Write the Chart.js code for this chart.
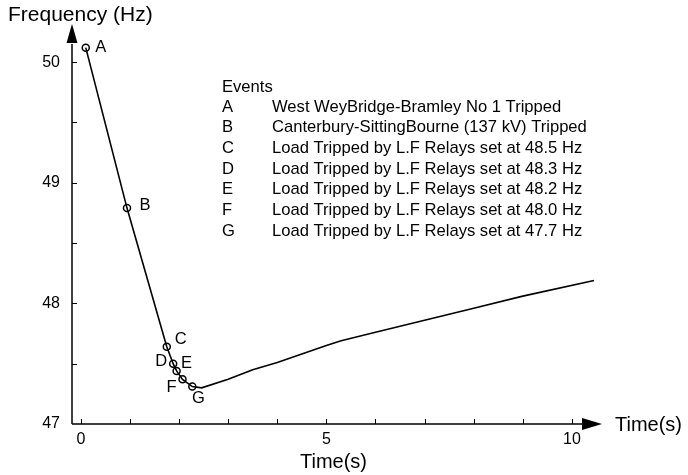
<!DOCTYPE html>
<html>
<head>
<meta charset="utf-8">
<script src="https://cdn.jsdelivr.net/npm/chart.js@4"></script>
<style>
  html, body { margin: 0; padding: 0; background: #fff; }
</style>
</head>
<body>
<canvas id="freqChart" width="688" height="475"></canvas>
<script>
// frequency trace
var timeS  = [0.10, 0.94, 1.75, 1.88, 1.95, 2.07, 2.27, 2.46, 3.0, 3.5, 4.0, 4.5, 5.0, 5.3, 6.0, 7.0, 8.0, 9.0, 10.45];
var freqHz = [50.12, 48.79, 47.64, 47.50, 47.44, 47.37, 47.31, 47.30, 47.37, 47.45, 47.51, 47.58, 47.65, 47.69, 47.76, 47.86, 47.96, 48.06, 48.19];

// events along the trace
var eventLetters = ['A', 'B', 'C', 'D', 'E', 'F', 'G'];
var eventTime = [0.10, 0.94, 1.75, 1.88, 1.95, 2.07, 2.27];
var eventFreq = [50.12, 48.79, 47.64, 47.50, 47.44, 47.37, 47.31];
var eventText = [
    'West WeyBridge-Bramley No 1 Tripped',
    'Canterbury-SittingBourne (137 kV) Tripped',
    'Load Tripped by L.F Relays set at 48.5 Hz',
    'Load Tripped by L.F Relays set at 48.3 Hz',
    'Load Tripped by L.F Relays set at 48.2 Hz',
    'Load Tripped by L.F Relays set at 48.0 Hz',
    'Load Tripped by L.F Relays set at 47.7 Hz'
];

// tick positions and the ones that carry a label
var xTickValues = [0, 1, 2, 3, 4, 5, 6, 7, 8, 9, 10];
var xTickLabels = [0, 5, 10];
var yTickValues = [47, 47.5, 48, 48.5, 49, 49.5, 50];
var yTickLabels = [47, 48, 49, 50];

// where each letter sits relative to its circle
var letterOffsets = [[15, 0], [18, -3], [14, -7], [-12, -2], [10, -7], [-11, 8], [6, 12]];

Chart.defaults.font.family = '"Liberation Sans", Arial, sans-serif';
Chart.defaults.color = '#000';

var axesAndNotes = {
    id: 'axesAndNotes',
    afterDraw: function (chart) {
        var ctx = chart.ctx, a = chart.chartArea;
        var xs = chart.scales.x, ys = chart.scales.y;
        ctx.save();
        ctx.strokeStyle = '#000';
        ctx.fillStyle = '#000';

        // axis lines
        ctx.lineWidth = 1.5;
        ctx.beginPath();
        ctx.moveTo(a.left, a.bottom);
        ctx.lineTo(a.left, a.top + 6);
        ctx.moveTo(a.left, a.bottom);
        ctx.lineTo(a.right - 13, a.bottom);
        ctx.stroke();

        // arrow heads
        ctx.beginPath();
        ctx.moveTo(a.left, a.top - 14);
        ctx.lineTo(a.left - 5.5, a.top + 5);
        ctx.lineTo(a.left + 5.5, a.top + 5);
        ctx.closePath();
        ctx.fill();
        ctx.beginPath();
        ctx.moveTo(a.right + 7, a.bottom);
        ctx.lineTo(a.right - 13, a.bottom - 6);
        ctx.lineTo(a.right - 13, a.bottom + 6);
        ctx.closePath();
        ctx.fill();

        // inward tick marks
        ctx.lineWidth = 1;
        ctx.beginPath();
        xs.ticks.forEach(function (t) {
            var px = Math.round(xs.getPixelForValue(t.value)) + 0.5;
            ctx.moveTo(px, a.bottom);
            ctx.lineTo(px, a.bottom - 5);
        });
        ys.ticks.forEach(function (t) {
            if (t.value === ys.min) return;
            var py = Math.round(ys.getPixelForValue(t.value)) + 0.5;
            ctx.moveTo(a.left, py);
            ctx.lineTo(a.left + 5, py);
        });
        ctx.stroke();

        // axis captions
        ctx.textBaseline = 'middle';
        ctx.textAlign = 'left';
        ctx.font = '21px "Liberation Sans", Arial, sans-serif';
        ctx.fillText('Frequency (Hz)', 8, 15);
        ctx.font = '20px "Liberation Sans", Arial, sans-serif';
        ctx.fillText('Time(s)', a.right + 20, a.bottom + 1);

        // letters next to the event circles
        ctx.font = '16.5px "Liberation Sans", Arial, sans-serif';
        ctx.textAlign = 'center';
        var pts = chart.getDatasetMeta(1).data;
        pts.forEach(function (p, i) {
            ctx.fillText(eventLetters[i], p.x + letterOffsets[i][0], p.y + letterOffsets[i][1]);
        });

        // event list
        ctx.textAlign = 'left';
        ctx.font = '16.6px "Liberation Sans", Arial, sans-serif';
        ctx.fillText('Events', 222, 87);
        eventText.forEach(function (txt, i) {
            var y = 107 + i * 20.7;
            ctx.fillText(eventLetters[i], 222, y);
            ctx.fillText(txt, 272, y);
        });
        ctx.restore();
    }
};

var ctx = document.getElementById('freqChart').getContext('2d');
var freqChart = new Chart(ctx, {
    type: 'scatter',
    data: {
        datasets: [{
            data: timeS.map(function (t, i) { return { x: t, y: freqHz[i] }; }),
            showLine: true,
            borderColor: '#000',
            borderWidth: 1.6,
            pointRadius: 0,
            tension: 0
        }, {
            data: eventTime.map(function (t, i) { return { x: t, y: eventFreq[i] }; }),
            showLine: false,
            pointRadius: 3.5,
            pointBackgroundColor: '#fff',
            pointBorderColor: '#000',
            pointBorderWidth: 1.5
        }]
    },
    options: {
        responsive: false,
        animation: false,
        layout: { padding: { top: 38, right: 93, bottom: 0, left: 0 } },
        plugins: {
            legend: { display: false },
            tooltip: { enabled: false }
        },
        scales: {
            x: {
                type: 'linear',
                min: -0.18,
                max: 10.47,
                grid: { display: false, drawTicks: false },
                border: { display: false },
                ticks: {
                    padding: 6,
                    maxRotation: 0,
                    autoSkip: false,
                    font: { size: 16 },
                    callback: function (v) { return xTickLabels.indexOf(v) >= 0 ? String(v) : ''; }
                },
                afterBuildTicks: function (s) {
                    s.ticks = xTickValues.map(function (v) { return { value: v }; });
                },
                afterFit: function (s) { s.height = 51; },
                title: {
                    display: true,
                    text: 'Time(s)',
                    font: { size: 20 },
                    padding: { top: 0, bottom: 1 }
                }
            },
            y: {
                min: 47,
                max: 50.2,
                grid: { display: false, drawTicks: false },
                border: { display: false },
                ticks: {
                    padding: 12,
                    autoSkip: false,
                    font: { size: 16 },
                    callback: function (v) { return yTickLabels.indexOf(v) >= 0 ? String(v) : ''; }
                },
                afterBuildTicks: function (s) {
                    s.ticks = yTickValues.map(function (v) { return { value: v }; });
                },
                afterFit: function (s) { s.width = 72; }
            }
        }
    },
    plugins: [axesAndNotes]
});
</script>
</body>
</html>
